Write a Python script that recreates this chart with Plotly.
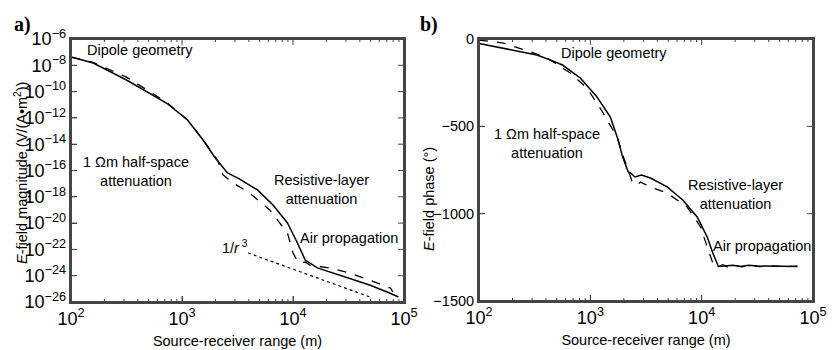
import numpy as np
import plotly.graph_objects as go

# ---------------- data ----------------
# a) magnitude, log10 of range (m) and log10 of |E| (V/(A.m^2))
mag_solid_logr = [2.00, 2.20, 2.50, 2.86, 3.05, 3.19, 3.30, 3.41, 3.52, 3.68, 3.82,
                  3.95, 4.04, 4.11, 4.22, 4.33, 4.51, 4.69, 4.87, 4.95]
mag_solid_logE = [-7.37, -7.83, -9.12, -10.87, -12.16, -13.68, -15.05, -16.19, -16.65,
                  -17.48, -18.62, -19.99, -21.51, -22.81, -23.41, -23.72, -24.17,
                  -24.71, -25.32, -25.62]
mag_dash_logr = [2.00, 2.20, 2.50, 2.80, 2.86, 3.05, 3.19, 3.32, 3.37, 3.46, 3.61, 3.79,
                 3.95, 4.00, 4.05, 4.11, 4.15, 4.33, 4.51, 4.69, 4.85, 4.88, 4.90]
mag_dash_logE = [-7.37, -7.78, -8.90, -10.45, -10.80, -12.16, -13.68, -15.20, -16.34,
                 -16.95, -17.71, -19.00, -20.75, -22.27, -23.03, -22.96, -23.19,
                 -23.41, -23.79, -24.33, -24.86, -24.95, -25.24]
r3_logr = [3.595, 4.694]
r3_logE = [-22.27, -25.62]

# b) phase, log10 of range (m) and phase (degrees)
ph_solid_logr = [2.00, 2.22, 2.52, 2.64, 2.75, 2.91, 3.06, 3.18, 3.25, 3.29, 3.34, 3.36,
                 3.40, 3.46, 3.54, 3.69, 3.83, 3.96, 4.05, 4.10, 4.15, 4.20, 4.28,
                 4.35, 4.42, 4.50, 4.60, 4.70, 4.86]
ph_solid_deg = [-25, -52, -92, -120, -149, -223, -332, -447, -578, -676, -760, -767,
                -790, -779, -796, -847, -922, -1019, -1134, -1225, -1302, -1300,
                -1295, -1302, -1296, -1300, -1301, -1300, -1302]
ph_dash_logr = [2.00, 2.22, 2.52, 2.64, 2.82, 2.97, 3.11, 3.24, 3.30, 3.36, 3.38, 3.42,
                3.45, 3.54, 3.69, 3.87, 3.99, 4.05, 4.10, 4.14, 4.19, 4.24, 4.30,
                4.36, 4.44, 4.52, 4.62, 4.72, 4.86]
ph_dash_deg = [-6, -23, -86, -120, -195, -281, -418, -561, -680, -796, -824, -836,
               -819, -847, -882, -962, -1076, -1191, -1282, -1305, -1292, -1308,
               -1296, -1305, -1294, -1303, -1298, -1302, -1301]

# ticks
x_range_log = [2, 5]
x_major = [1e2, 1e3, 1e4, 1e5]
x_minor = [k * 10 ** d for d in (2, 3, 4) for k in range(2, 10)]
ymag_range_log = [-26, -6]
ymag_exps = list(range(-26, -5, 2))
yph_range = [-1500, 0]
yph_ticks = [-1500, -1000, -500, 0]

FONT = "Liberation Sans, Arial, Helvetica, sans-serif"
FRAME = "#454545"
W, H = 835, 350
PANELS = {"a": (71, 404, 39, 302), "b": (479, 813, 39, 301)}  # left, right, top, bottom (px)


def r(v):
    return 10 ** np.asarray(v)


fig = go.Figure()
line_solid = dict(color="black", width=1.5)
line_dash = dict(color="black", width=1.3, dash="dash")

fig.add_trace(go.Scatter(x=r(mag_solid_logr), y=r(mag_solid_logE), mode="lines",
                         line=line_solid, xaxis="x", yaxis="y"))
fig.add_trace(go.Scatter(x=r(mag_dash_logr), y=r(mag_dash_logE), mode="lines",
                         line=line_dash, xaxis="x", yaxis="y"))
fig.add_trace(go.Scatter(x=r(r3_logr), y=r(r3_logE), mode="lines",
                         line=dict(color="black", width=1.2, dash="dot"), xaxis="x", yaxis="y"))
fig.add_trace(go.Scatter(x=r(ph_solid_logr), y=ph_solid_deg, mode="lines",
                         line=line_solid, xaxis="x2", yaxis="y2"))
fig.add_trace(go.Scatter(x=r(ph_dash_logr), y=ph_dash_deg, mode="lines",
                         line=line_dash, xaxis="x2", yaxis="y2"))

tickfont = dict(size=14.5, color="black", family=FONT)
axis_common = dict(showline=True, linecolor=FRAME, linewidth=2, mirror=True,
                   ticks="inside", ticklen=6, tickcolor=FRAME,
                   gridcolor="rgba(0,0,0,0)", zerolinecolor="rgba(0,0,0,0)",
                   automargin=False, tickfont=tickfont)


def xax(p, anchor):
    L, R, T, B = PANELS[p]
    return dict(domain=[L / W, R / W], anchor=anchor, type="log", range=x_range_log,
                dtick=1, exponentformat="power",
                title=dict(text="Source-receiver range (m)",
                           font=dict(size=14.5, color="black", family=FONT), standoff=8),
                **axis_common)


def ydom(p):
    L, R, T, B = PANELS[p]
    return [1 - B / H, 1 - T / H]


fig.update_layout(
    width=W, height=H, margin=dict(l=0, r=0, t=0, b=0, autoexpand=False),
    showlegend=False, plot_bgcolor="white",
    xaxis=xax("a", "y"),
    xaxis2=xax("b", "y2"),
    yaxis=dict(domain=ydom("a"), anchor="x", type="log", range=ymag_range_log, dtick=2,
               exponentformat="power", **axis_common),
    yaxis2=dict(domain=ydom("b"), anchor="x2", range=yph_range, tickvals=yph_ticks,
                **axis_common),
)

# box frame and inward tick marks (mirrored on all four sides), in paper coordinates
xfr_major = [(np.log10(v) - x_range_log[0]) / (x_range_log[1] - x_range_log[0]) for v in x_major]
xfr_minor = [(np.log10(v) - x_range_log[0]) / (x_range_log[1] - x_range_log[0]) for v in x_minor]
yfr = {"a": [(e - ymag_range_log[0]) / (ymag_range_log[1] - ymag_range_log[0]) for e in ymag_exps],
       "b": [(v - yph_range[0]) / (yph_range[1] - yph_range[0]) for v in yph_ticks]}


def seg(x0, y0, x1, y1, w=1):
    fig.add_shape(type="line", xref="paper", yref="paper",
                  x0=x0 / W, x1=x1 / W, y0=1 - y0 / H, y1=1 - y1 / H,
                  line=dict(color=FRAME, width=w))


for p, (L, R, T, B) in PANELS.items():
    for fr_list, ln in ((xfr_major, 6), (xfr_minor, 3)):
        for f in fr_list:
            if 0.002 < f < 0.998:
                px = L + f * (R - L)
                seg(px, B, px, B - ln)
                seg(px, T, px, T + ln)
    for f in yfr[p]:
        if 0.002 < f < 0.998:
            py = B - f * (B - T)
            seg(L, py, L + 6, py)
            seg(R, py, R - 6, py)
    fig.add_shape(type="rect", xref="paper", yref="paper", x0=L / W, x1=R / W,
                  y0=1 - B / H, y1=1 - T / H, line=dict(color=FRAME, width=2))

ann_font = dict(size=14.5, color="black", family=FONT)
anns = [
    ("x", "y", 2.126, -6.84, "Dipole geometry", "left"),
    ("x", "y", 2.585, -16.04, "1 \u03a9m half-space<br>attenuation", "center"),
    ("x", "y", 4.26, -17.48, "Resistive-layer<br>attenuation", "center"),
    ("x", "y", 4.50, -21.13, "Air propagation", "center"),
    ("x", "y", 3.48, -21.8, "1/<i>r</i><sup> 3</sup>", "center"),
    ("x2", "y2", 3.213, -80, "Dipole geometry", "center"),
    ("x2", "y2", 2.611, -601, "1 \u03a9m half-space<br>attenuation", "center"),
    ("x2", "y2", 4.30, -893, "Resistive-layer<br>attenuation", "center"),
    ("x2", "y2", 4.543, -1185, "Air propagation", "center"),
]
for xr, yr, xv, yv, txt, xanc in anns:
    fig.add_annotation(xref=xr, yref=yr, x=xv, y=yv, text=txt, showarrow=False,
                       xanchor=xanc, yanchor="middle", font=ann_font, align="center")

# y-axis titles
fig.add_annotation(xref="paper", yref="paper", x=21 / W, y=1 - 173 / H, textangle=-90,
                   text="<i>E</i>-field magnitude (V/(A\u2022m<sup>2</sup>))", showarrow=False,
                   xanchor="center", yanchor="middle", font=ann_font)
fig.add_annotation(xref="paper", yref="paper", x=429 / W, y=1 - 199 / H, textangle=-90,
                   text="<i>E</i>-field phase (\u00b0)", showarrow=False,
                   xanchor="center", yanchor="middle", font=ann_font)

for txt, px in (("a)", 12), ("b)", 418)):
    fig.add_annotation(xref="paper", yref="paper", x=px / W, y=1 - 24 / H, text=f"<b>{txt}</b>",
                       showarrow=False, xanchor="left", yanchor="middle",
                       font=dict(size=20, color="black", family="Liberation Serif, Times New Roman, serif"))

fig.write_html("out.html")
